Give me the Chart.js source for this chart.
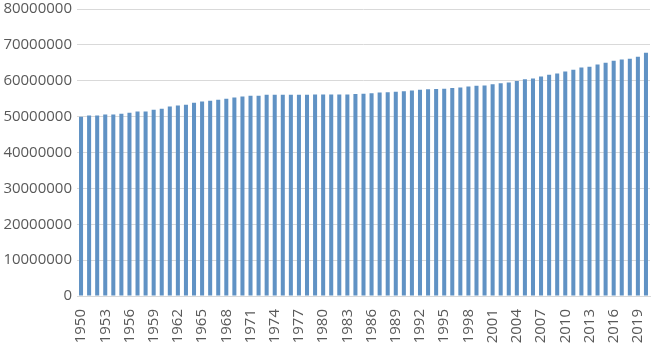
<!DOCTYPE html>
<html>
<head>
<meta charset="utf-8">
<script src="https://cdn.jsdelivr.net/npm/chart.js@4/dist/chart.umd.min.js"></script>
<style>
    html, body { margin: 0; padding: 0; background: #ffffff; }
    #wrap { width: 652px; height: 348px; position: relative; }
</style>
</head>
<body>
<div id="wrap"><canvas id="popChart"></canvas></div>
<script>
// Years shown on the category axis
const years = [
    "1950", "1951", "1952", "1953", "1954", "1955", "1956", "1957", "1958", "1959",
    "1960", "1961", "1962", "1963", "1964", "1965", "1966", "1967", "1968", "1969",
    "1970", "1971", "1972", "1973", "1974", "1975", "1976", "1977", "1978", "1979",
    "1980", "1981", "1982", "1983", "1984", "1985", "1986", "1987", "1988", "1989",
    "1990", "1991", "1992", "1993", "1994", "1995", "1996", "1997", "1998", "1999",
    "2000", "2001", "2002", "2003", "2004", "2005", "2006", "2007", "2008", "2009",
    "2010", "2011", "2012", "2013", "2014", "2015", "2016", "2017", "2018", "2019",
    "2020"
];

// Population values
const population = [
    50000000, 50300000, 50300000, 50600000, 50600000, 50800000, 51100000, 51400000, 51400000, 51900000,
    52200000, 52800000, 53100000, 53300000, 53900000, 54200000, 54400000, 54700000, 55000000, 55300000,
    55600000, 55800000, 55800000, 56100000, 56100000, 56100000, 56100000, 56100000, 56100000, 56200000,
    56200000, 56200000, 56200000, 56200000, 56300000, 56400000, 56500000, 56700000, 56800000, 56900000,
    57100000, 57300000, 57500000, 57600000, 57700000, 57800000, 58000000, 58100000, 58400000, 58600000,
    58700000, 59000000, 59300000, 59500000, 59900000, 60400000, 60600000, 61200000, 61700000, 62000000,
    62600000, 63100000, 63700000, 63900000, 64500000, 65000000, 65600000, 65900000, 66100000, 66700000,
    67800000
];

// Y axis range and step
const yMin = 0;
const yMax = 80000000;
const yStep = 10000000;

document.addEventListener("DOMContentLoaded", function () {
    const ctx = document.getElementById("popChart").getContext("2d");

    new Chart(ctx, {
        type: "bar",
        data: {
            labels: years,
            datasets: [{
                data: population,
                backgroundColor: "#6092c4",
                categoryPercentage: 1.0,
                barPercentage: 0.5
            }]
        },
        options: {
            responsive: true,
            maintainAspectRatio: false,
            animation: false,
            layout: { padding: { top: 9, right: 2, left: 0, bottom: 0 } },
            plugins: {
                legend: { display: false },
                tooltip: { enabled: false }
            },
            scales: {
                x: {
                    grid: { display: false },
                    border: { display: true, color: "#d9d9d9" },
                    ticks: {
                        autoSkip: false,
                        maxRotation: 90,
                        minRotation: 90,
                        padding: 5,
                        color: "#595959",
                        font: { family: "'Open Sans'", size: 15 },
                        callback: function (value, index) {
                            return index % 3 === 0 ? years[index] : "";
                        }
                    },
                    afterFit: (scale) => {
                        scale.height = 52;
                        scale.paddingLeft = 0;
                        scale.paddingRight = 0;
                    }
                },
                y: {
                    min: yMin,
                    max: yMax,
                    grid: { color: "#d9d9d9", drawTicks: false },
                    border: { display: false },
                    ticks: {
                        stepSize: yStep,
                        padding: 5,
                        color: "#595959",
                        font: { family: "'Open Sans'", size: 15 },
                        callback: (value) => String(value)
                    },
                    afterFit: (scale) => {
                        scale.width = 77;
                        scale.paddingTop = 0;
                    }
                }
            }
        }
    });
});
</script>
</body>
</html>
